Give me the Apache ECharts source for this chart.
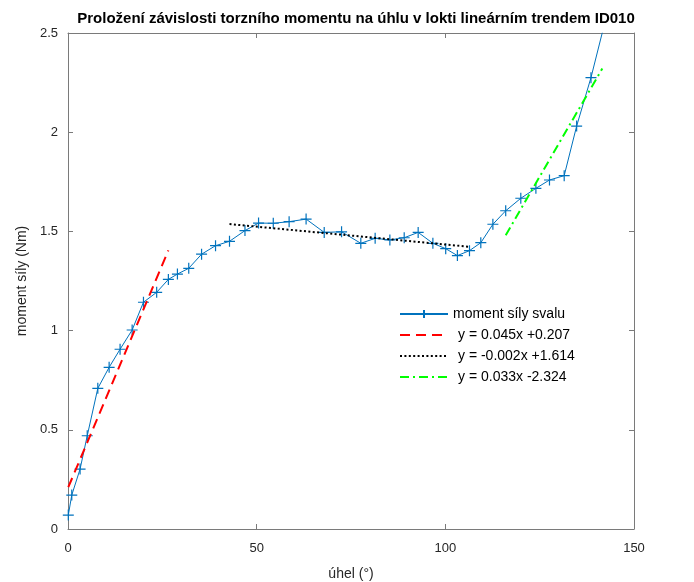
<!DOCTYPE html>
<html>
<head>
<meta charset="utf-8">
<script src="https://cdn.jsdelivr.net/npm/echarts@6/dist/echarts.min.js"></script>
<style>
  html, body { margin: 0; padding: 0; background: #fff; }
  #chart { width: 694px; height: 582px; }
</style>
</head>
<body>
<div id="chart"></div>
<script>
// Measured elbow torque vs. angle
const angle = [0.08, 1.0, 3.2, 5.1, 7.9, 10.9, 13.8, 17.0, 20.0, 23.5, 26.6, 29.0, 32.0, 35.4,
  39.1, 42.8, 46.9, 50.5, 54.4, 58.6, 63.1, 67.9, 72.5, 77.6, 81.4, 85.3, 89.1, 92.8, 96.7,
  100.1, 103.2, 106.4, 109.4, 112.6, 116.0, 120.0, 124.0, 127.6, 131.5, 134.8, 138.6, 141.6];
const moment = [0.07, 0.171, 0.302, 0.470, 0.709, 0.815, 0.906, 1.003, 1.143, 1.193, 1.258, 1.285,
  1.314, 1.385, 1.428, 1.450, 1.504, 1.542, 1.541, 1.549, 1.562, 1.495, 1.498, 1.440, 1.465, 1.457,
  1.468, 1.495, 1.440, 1.413, 1.378, 1.403, 1.443, 1.536, 1.604, 1.667, 1.717, 1.759, 1.781, 2.031,
  2.275, 2.502];

// Linear fits per segment: slope, intercept, and the angle span each fit covers
const fitSlope = [0.045, -0.0018, 0.0328];
const fitIntercept = [0.207, 1.614, -2.324];
const fitFrom = [0.08, 42.8, 116.0];
const fitTo = [26.6, 106.4, 141.6];
const fitColors = ['#FF0000', '#000000', '#00FF00'];
const fitDash = [[10, 6], [2, 2.4], [9, 4, 2, 4]];

const seriesName = 'moment síly svalu';
const titleText = 'Proložení závislosti torzního momentu na úhlu v lokti lineárním trendem ID010';
const xTicks = { min: 0, max: 150, step: 50 };
const yTicks = { min: 0, max: 2.5, step: 0.5 };

const font = '"Liberation Sans", Arial, Helvetica, sans-serif';
const axisGray = '#7a7a7a';
const textDark = '#262626';
const blue = '#0072BD';

function fitLabel(i) {
  const a = fitSlope[i].toFixed(3);
  const b = fitIntercept[i];
  return 'y = ' + a + 'x ' + (b >= 0 ? '+' : '') + b.toFixed(3);
}

const measured = angle.map((x, i) => [x, moment[i]]);

const fitSeries = fitSlope.map((a, i) => ({
  name: fitLabel(i),
  type: 'line',
  symbol: 'none',
  silent: true,
  z: 3,
  data: [
    [fitFrom[i], a * fitFrom[i] + fitIntercept[i]],
    [fitTo[i], a * fitTo[i] + fitIntercept[i]]
  ],
  lineStyle: { color: fitColors[i], width: 2, type: fitDash[i] },
  // no marker on the fit lines, so keep the legend marker invisible too
  itemStyle: { color: 'rgba(0,0,0,0)', borderWidth: 0 }
}));

function frameAxis(extra, ticks) {
  return Object.assign({
    type: 'value',
    min: ticks.min,
    max: ticks.max,
    interval: ticks.step,
    splitLine: { show: false },
    axisLine: { show: true, onZero: false, lineStyle: { color: axisGray, width: 1 } },
    axisTick: { show: true, inside: true, length: 5, lineStyle: { color: axisGray } },
    axisLabel: { show: false }
  }, extra);
}

const legendData = [{ name: seriesName }].concat(fitSeries.map(s => ({
  name: s.name,
  textStyle: { padding: [0, 0, 0, 5] }
})));

const chart = echarts.init(document.getElementById('chart'), null, { renderer: 'canvas' });
chart.setOption({
  animation: false,
  backgroundColor: '#ffffff',
  textStyle: { fontFamily: font },
  title: {
    text: titleText,
    left: 351,
    textAlign: 'center',
    top: 6,
    textStyle: { fontFamily: font, fontSize: 15, fontWeight: 'bold', color: '#000' }
  },
  grid: { left: 68, right: 60, top: 33, bottom: 53, containLabel: false, outerBoundsMode: 'none' },
  legend: {
    orient: 'vertical',
    left: 399,
    top: 307,
    itemWidth: 48,
    itemHeight: 10,
    itemGap: 7,
    padding: 0,
    textStyle: { fontFamily: font, fontSize: 14, color: '#000' },
    data: legendData
  },
  xAxis: [
    frameAxis({
      position: 'bottom',
      name: 'úhel (°)',
      nameLocation: 'middle',
      nameGap: 38,
      nameTextStyle: { fontFamily: font, fontSize: 14, color: textDark },
      axisLabel: { show: true, margin: 13, fontSize: 13, color: textDark, fontFamily: font }
    }, xTicks),
    frameAxis({ position: 'top' }, xTicks)
  ],
  yAxis: [
    frameAxis({
      position: 'left',
      name: 'moment síly (Nm)',
      nameLocation: 'middle',
      nameGap: 37,
      nameTextStyle: { fontFamily: font, fontSize: 14, color: textDark },
      axisLabel: { show: true, margin: 10, fontSize: 13, color: textDark, fontFamily: font }
    }, yTicks),
    frameAxis({ position: 'right' }, yTicks)
  ],
  series: [{
    name: seriesName,
    type: 'line',
    data: measured,
    z: 2,
    symbol: 'path://M0,5L10,5M5,0L5,10',
    symbolSize: 11,
    showSymbol: true,
    lineStyle: { color: blue, width: 1 },
    itemStyle: { color: 'rgba(0,0,0,0)', borderColor: blue, borderWidth: 1.2 }
  }].concat(fitSeries)
});
</script>
</body>
</html>
